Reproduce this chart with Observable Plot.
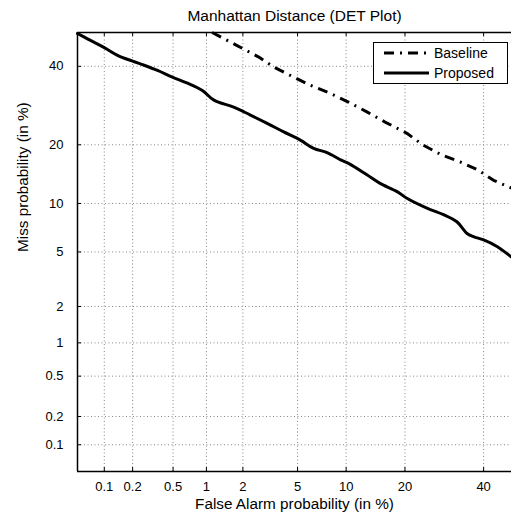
<!DOCTYPE html>
<html><head><meta charset="utf-8">
<script src="https://cdn.jsdelivr.net/npm/d3@7"></script>
<script src="https://cdn.jsdelivr.net/npm/@observablehq/plot@0.6"></script>
<style>body{margin:0;background:#fff} svg{display:block;overflow:hidden}</style>
</head><body><div id="chart"></div>
<script>
const title = "Manhattan Distance (DET Plot)";
const xLabel = "False Alarm probability (in %)";
const yLabel = "Miss probability (in %)";
const tickValues = [0.1, 0.2, 0.5, 1, 2, 5, 10, 20, 40];
const tickLabels = ["0.1", "0.2", "0.5", "1", "2", "5", "10", "20", "40"];
const axisDomain = [0.05, 50];
const seriesNames = ["Baseline", "Proposed"];

const proposedFA   = [0.05, 0.065, 0.1, 0.139, 0.2, 0.262, 0.355, 0.493, 0.68, 0.922, 1.16, 1.69, 2.29, 3.06, 4.02, 5.22, 6.37, 7.72, 9.3, 10.5, 13.0, 15.2, 18.4, 20.4, 24.9, 29.0, 32.5, 35.3, 37.1, 40.0, 43.9, 48.1, 50];
const proposedMiss = [49.7, 48.1, 45.5, 43.2, 41.5, 40.3, 38.8, 36.9, 35.2, 33.2, 30.6, 28.8, 26.8, 24.8, 22.8, 21.0, 19.25, 18.4, 17.0, 16.2, 14.3, 12.9, 11.65, 10.7, 9.4, 8.6, 7.8, 6.6, 6.3, 6.0, 5.44, 4.64, 4.3];

const baselineFA   = [1.12, 1.80, 2.65, 3.41, 4.71, 6.07, 8.08, 10.3, 13.0, 16.1, 20.4, 24.1, 28.6, 33.4, 38.5, 42.9, 48.1, 50];
const baselineMiss = [50, 46.1, 42.7, 39.8, 36.9, 34.6, 32.4, 30.1, 27.6, 25.1, 22.5, 19.9, 17.9, 16.6, 15.1, 13.4, 12.2, 11.9];

// inverse normal CDF (Acklam) for the DET (normal deviate) scale
function probit(p) {
  const a=[-3.969683028665376e+01,2.209460984245205e+02,-2.759285104469687e+02,1.383577518672690e+02,-3.066479806614716e+01,2.506628277459239e+00];
  const b=[-5.447609879822406e+01,1.615858368580409e+02,-1.556989798598866e+02,6.680131188771972e+01,-1.328068155288572e+01];
  const c=[-7.784894002430293e-03,-3.223964580411365e-01,-2.400758277161838e+00,-2.549732539343734e+00,4.374664141464968e+00,2.938163982698783e+00];
  const d=[7.784695709041462e-03,3.224671290700398e-01,2.445134137142996e+00,3.754408661907416e+00];
  const pl = 0.02425, ph = 1 - pl;
  let q, r;
  if (p < pl) { q = Math.sqrt(-2*Math.log(p)); return (((((c[0]*q+c[1])*q+c[2])*q+c[3])*q+c[4])*q+c[5])/((((d[0]*q+d[1])*q+d[2])*q+d[3])*q+1); }
  if (p <= ph) { q = p - 0.5; r = q*q; return (((((a[0]*r+a[1])*r+a[2])*r+a[3])*r+a[4])*r+a[5])*q/(((((b[0]*r+b[1])*r+b[2])*r+b[3])*r+b[4])*r+1); }
  q = Math.sqrt(-2*Math.log(1-p)); return -(((((c[0]*q+c[1])*q+c[2])*q+c[3])*q+c[4])*q+c[5])/((((d[0]*q+d[1])*q+d[2])*q+d[3])*q+1);
}
const P = v => probit(v / 100);

const baselineRows = baselineFA.map((fa, i) => ({series: seriesNames[0], fa, miss: baselineMiss[i]}));
const proposedRows = proposedFA.map((fa, i) => ({series: seriesNames[1], fa, miss: proposedMiss[i]}));

const W = 511, H = 514, mL = 77, mT = 32, mB = 43, plotSize = 440;
const zLo = P(axisDomain[0]), zHi = P(axisDomain[1]);
const tl = 4 * (zHi - zLo) / plotSize; // tick length in deviate units
const font = "'Liberation Sans', Arial, Helvetica, sans-serif";
const dashDot = "10,6,2,6";
const lw = 3;

const chart = Plot.plot({
  width: W, height: H,
  marginLeft: mL, marginTop: mT, marginBottom: mB, marginRight: 0,
  style: {fontFamily: font, background: "#fff", overflow: "hidden"},
  x: {domain: [zLo, zHi], range: [mL, mL + plotSize], axis: null},
  y: {domain: [zLo, zHi], range: [H - mB, mT], axis: null},
  marks: [
    // dotted grid
    Plot.ruleX(tickValues, {x: P, y1: zLo, y2: zHi, stroke: "#888", strokeWidth: 1, strokeDasharray: "1,2.5"}),
    Plot.ruleY(tickValues, {y: P, x1: zLo, x2: zHi, stroke: "#888", strokeWidth: 1, strokeDasharray: "1,2.5"}),
    // inward ticks
    Plot.ruleX(tickValues, {x: P, y1: zLo, y2: zLo + tl, stroke: "#000"}),
    Plot.ruleX(tickValues, {x: P, y1: zHi - tl, y2: zHi, stroke: "#000"}),
    Plot.ruleY(tickValues, {y: P, x1: zLo, x2: zLo + tl, stroke: "#000"}),
    // frame
    Plot.ruleX([zLo], {stroke: "#000", strokeWidth: 1.5}),
    Plot.ruleY([zLo], {stroke: "#000", strokeWidth: 1.5}),
    Plot.ruleY([zHi], {stroke: "#000", strokeWidth: 1.5}),
    // curves
    Plot.line(baselineRows, {x: d => P(d.fa), y: d => P(d.miss), stroke: "#000", strokeWidth: lw, strokeDasharray: dashDot, strokeLinecap: "butt"}),
    Plot.line(proposedRows, {x: d => P(d.fa), y: d => P(d.miss), stroke: "#000", strokeWidth: lw, curve: "catmull-rom"}),
    // tick labels
    Plot.text(tickValues, {x: P, y: () => zLo, dy: 15, lineAnchor: "middle", text: (d, i) => tickLabels[i], fontSize: 13, fill: "#000"}),
    Plot.text(tickValues, {x: () => zLo, y: P, dx: -14, lineAnchor: "middle", textAnchor: "end", text: (d, i) => tickLabels[i], fontSize: 13, fill: "#000"}),
    // titles
    Plot.text([title], {frameAnchor: "top", lineAnchor: "middle", dy: -16, fontSize: 15.5, fill: "#000"}),
    Plot.text([xLabel], {frameAnchor: "bottom", lineAnchor: "middle", dy: 33, fontSize: 15.3, fill: "#000"}),
    Plot.text([yLabel], {frameAnchor: "left", lineAnchor: "middle", dx: -54, rotate: -90, fontSize: 15.3, fill: "#000"})
  ]
});

const svg = d3.select(chart);
// legend
const lg = svg.append("g").attr("font-family", font).attr("font-size", 14).attr("text-anchor", "start");
lg.append("rect").attr("x", 373.5).attr("y", 42.5).attr("width", 134).attr("height", 41)
  .attr("fill", "#fff").attr("stroke", "#000").attr("stroke-width", 1);
const entries = [{name: seriesNames[0], dash: dashDot, y: 53}, {name: seriesNames[1], dash: null, y: 73}];
entries.forEach(e => {
  const ln = lg.append("line").attr("x1", 384).attr("x2", 429).attr("y1", e.y).attr("y2", e.y)
    .attr("stroke", "#000").attr("stroke-width", lw);
  if (e.dash) ln.attr("stroke-dasharray", e.dash);
  lg.append("text").attr("x", 434).attr("y", e.y).attr("dy", "0.35em").attr("text-anchor", "start").text(e.name);
});
document.getElementById("chart").appendChild(chart);
</script>
</body></html>
